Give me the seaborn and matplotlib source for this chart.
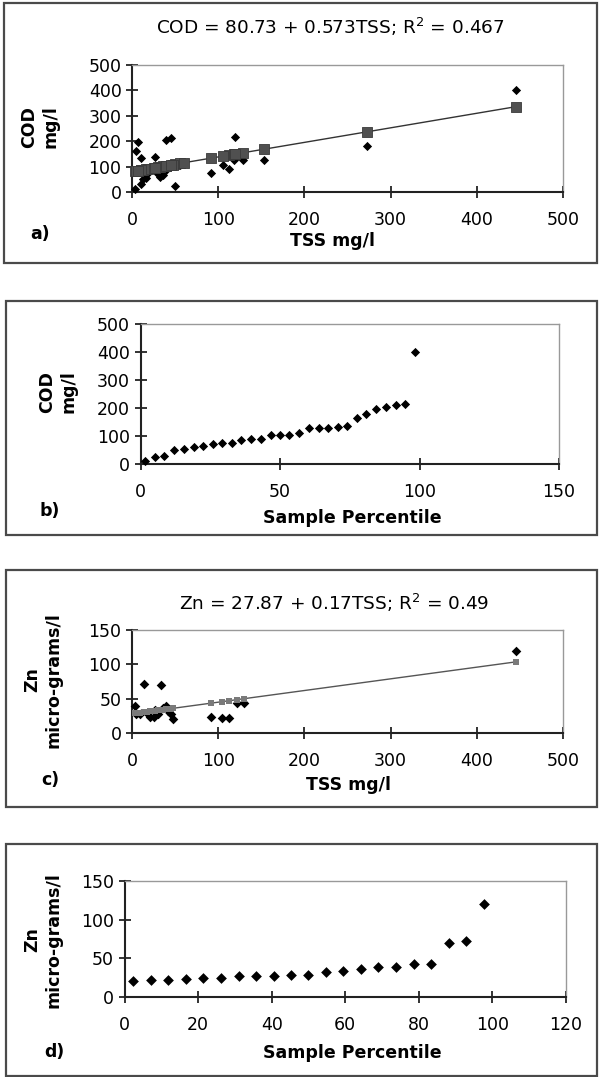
import numpy as np
import pandas as pd
import matplotlib
matplotlib.use("Agg")
import matplotlib.pyplot as plt
import seaborn as sns
from matplotlib.patches import Rectangle

sns.set_theme(style="ticks")
plt.rcParams['font.family'] = ['DejaVu Sans']

# ---------------- data ----------------
# a) COD vs TSS (individual samples)
cod_tss = [3.5, 50, 10, 13, 16, 32, 36, 30, 92, 19, 40, 112, 25, 106, 56, 48, 60,
           129, 153, 118, 10.4, 26.7, 4.6, 273, 6.6, 40, 45, 120, 445]
cod_val = [12, 25, 30, 50, 55, 60, 65, 70, 76, 76, 86, 90, 90, 105, 105, 105, 112,
           127, 127, 127, 132, 136, 163, 180, 195, 205, 211, 215, 400]
cod_intercept, cod_slope = 80.73, 0.573

# b) COD probability plot
cod_pct = [1.7, 5.2, 8.6, 12.1, 15.5, 19.0, 22.4, 25.9, 29.3, 32.8, 36.2, 39.7, 43.1,
           46.6, 50.0, 53.4, 56.9, 60.3, 63.8, 67.2, 70.7, 74.1, 77.6, 81.0, 84.5,
           87.9, 91.4, 94.8, 98.3]
cod_sorted = [12, 25, 30, 50, 55, 60, 65, 70, 76, 76, 86, 90, 90, 105, 105, 105, 112,
              127, 127, 127, 132, 136, 163, 180, 195, 205, 211, 215, 400]

# c) Zn vs TSS
zn_tss = [48, 112, 104, 92, 25, 21, 9, 30, 45, 5, 17, 42, 27, 36, 40, 3.5, 122, 130,
          33.6, 14.5, 445]
zn_val = [21, 22, 22, 23, 24, 24, 27, 27, 27, 28, 29, 32, 33, 36, 39, 39, 43, 43,
          70, 72, 120]
zn_intercept, zn_slope = 27.87, 0.17

# d) Zn probability plot
zn_pct = [2.4, 7.1, 11.9, 16.7, 21.4, 26.2, 31.0, 35.7, 40.5, 45.2, 50.0, 54.8, 59.5,
          64.3, 69.0, 73.8, 78.6, 83.3, 88.1, 92.9, 97.6]
zn_sorted = [21, 22, 22, 23, 24, 24, 27, 27, 27, 28, 29, 32, 33, 36, 39, 39, 43, 43,
             70, 72, 120]

titles = ["COD = 80.73 + 0.573TSS; R$^2$ = 0.467", "Zn = 27.87 + 0.17TSS; R$^2$ = 0.49"]

# ---------------- layout helpers ----------------
W, H = 601, 1077
fig = plt.figure(figsize=(W / 100, H / 100), dpi=100)
fig.patch.set_facecolor("white")


def fx(px):
    return px / W


def fy(py):
    return 1 - py / H


def make_axes(l, r, t, b):
    return fig.add_axes([fx(l), fy(b), (r - l) / W, (b - t) / H])


def panel_box(l, r, t, b):
    fig.patches.append(Rectangle((fx(l), fy(b)), (r - l) / W, (b - t) / H,
                                 transform=fig.transFigure, fill=False,
                                 edgecolor="#4a4a4a", linewidth=1.6, zorder=0))


def style(ax, xlim, xticks, ylim, yticks):
    ax.set_xlim(xlim)
    ax.set_ylim(ylim)
    ax.set_xticks(xticks)
    ax.set_yticks(yticks)
    ax.set_facecolor("white")
    ax.tick_params(direction="inout", length=9, width=1.2, color="#111111",
                   labelsize=12.5, labelcolor="black", bottom=True, left=True)
    ax.tick_params(axis="x", pad=9)
    ax.tick_params(axis="y", pad=3)
    for s in ["left", "bottom"]:
        ax.spines[s].set_color("#222222")
        ax.spines[s].set_linewidth(1.5)
    for s in ["top", "right"]:
        ax.spines[s].set_visible(True)
        ax.spines[s].set_color("#999999")
        ax.spines[s].set_linewidth(1.0)
    ax.set_xlabel("")
    ax.set_ylabel("")


def ftext(px, py, s, **kw):
    fig.text(fx(px), fy(py), s, ha="center", va="center", color="black", **kw)


def no_clip(ax):
    for c in ax.collections:
        c.set_clip_on(False)


LBL = dict(fontsize=12.5, fontweight="bold")

# ---------------- panel a ----------------
panel_box(4, 597, 3, 263)
axa = make_axes(132, 563, 65, 192)
dfa = pd.DataFrame({"TSS": cod_tss, "COD": cod_val})
dfa["fit"] = cod_intercept + cod_slope * dfa["TSS"]
sns.lineplot(data=dfa.sort_values("TSS"), x="TSS", y="fit", ax=axa, color="#333333",
             linewidth=1.0, estimator=None, sort=True)
sns.scatterplot(data=dfa, x="TSS", y="COD", ax=axa, marker="D", s=22, color="black",
                linewidth=0, zorder=3)
sns.scatterplot(data=dfa, x="TSS", y="fit", ax=axa, marker="s", s=55, color="#505050",
                edgecolor="#3a3a3a", linewidth=0.6, zorder=4)
style(axa, (0, 500), [0, 100, 200, 300, 400, 500], (0, 500), [0, 100, 200, 300, 400, 500])
no_clip(axa)
ftext(330, 27, titles[0], fontsize=13.3)
ftext(40, 127, "COD\nmg/l", rotation=90, linespacing=1.25, **LBL)
ftext(333, 241, "TSS mg/l", **LBL)
ftext(40, 234, "a)", **LBL)

# ---------------- panel b ----------------
panel_box(6, 597, 301, 535)
axb = make_axes(140.5, 559, 324, 464)
dfb = pd.DataFrame({"pct": cod_pct, "COD": cod_sorted})
sns.scatterplot(data=dfb, x="pct", y="COD", ax=axb, marker="D", s=22, color="black",
                linewidth=0, zorder=3)
style(axb, (0, 150), [0, 50, 100, 150], (0, 500), [0, 100, 200, 300, 400, 500])
no_clip(axb)
ftext(58, 392, "COD\nmg/l", rotation=90, linespacing=1.25, **LBL)
ftext(352, 518, "Sample Percentile", **LBL)
ftext(50, 511, "b)", **LBL)

# ---------------- panel c ----------------
panel_box(6, 597, 570, 807)
axc = make_axes(132, 563, 630, 733)
dfc = pd.DataFrame({"TSS": zn_tss, "Zn": zn_val})
dfc["fit"] = zn_intercept + zn_slope * dfc["TSS"]
sns.lineplot(data=dfc.sort_values("TSS"), x="TSS", y="fit", ax=axc, color="#555555",
             linewidth=1.0, estimator=None, sort=True)
sns.scatterplot(data=dfc, x="TSS", y="Zn", ax=axc, marker="D", s=24, color="black",
                linewidth=0, zorder=3)
sns.scatterplot(data=dfc, x="TSS", y="fit", ax=axc, marker="s", s=16, color="#7a7a7a",
                linewidth=0, zorder=4)
style(axc, (0, 500), [0, 100, 200, 300, 400, 500], (0, 150), [0, 50, 100, 150])
no_clip(axc)
ftext(334, 603, titles[1], fontsize=13.3)
ftext(43, 680, "Zn\nmicro-grams/l", rotation=90, linespacing=1.25, **LBL)
ftext(349, 785, "TSS mg/l", **LBL)
ftext(50, 780, "c)", **LBL)

# ---------------- panel d ----------------
panel_box(6, 597, 844, 1076)
axd = make_axes(124.5, 566, 881, 997)
dfd = pd.DataFrame({"pct": zn_pct, "Zn": zn_sorted})
sns.scatterplot(data=dfd, x="pct", y="Zn", ax=axd, marker="D", s=30, color="black",
                linewidth=0, zorder=3)
style(axd, (0, 120), [0, 20, 40, 60, 80, 100, 120], (0, 150), [0, 50, 100, 150])
no_clip(axd)
ftext(43, 940, "Zn\nmicro-grams/l", rotation=90, linespacing=1.25, **LBL)
ftext(352, 1053, "Sample Percentile", **LBL)
ftext(54, 1052, "d)", **LBL)

fig.savefig("out.png", dpi=100, facecolor="white")
